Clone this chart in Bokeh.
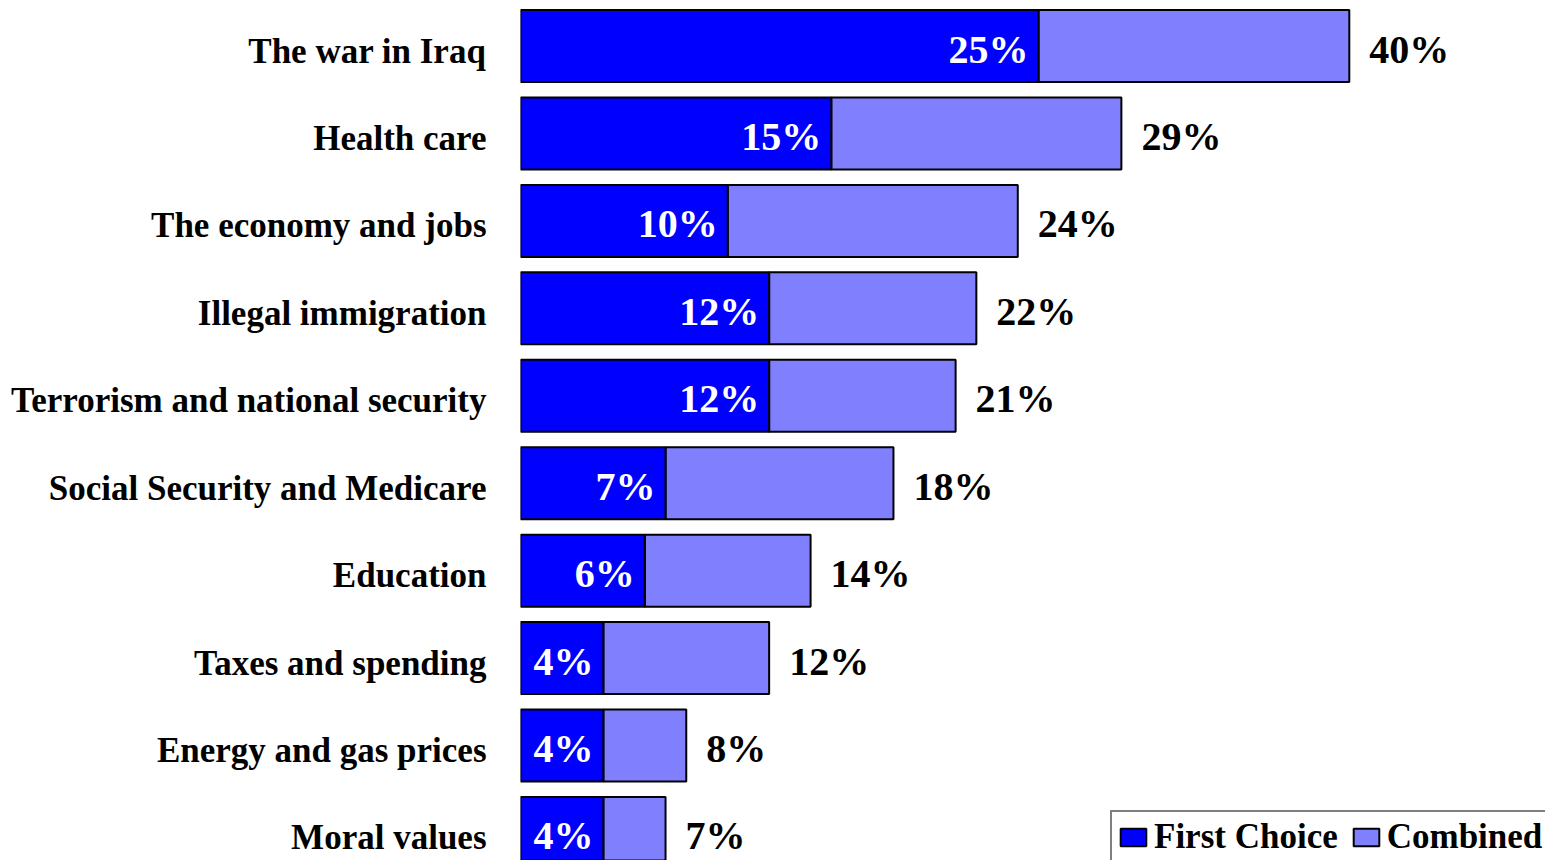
from bokeh.plotting import figure
from bokeh.models import ColumnDataSource, Range1d, Legend, LegendItem
from bokeh.core.properties import value
from bokeh.embed import file_html
from bokeh.resources import INLINE

categories = ["The war in Iraq", "Health care", "The economy and jobs", "Illegal immigration",
              "Terrorism and national security", "Social Security and Medicare", "Education",
              "Taxes and spending", "Energy and gas prices", "Moral values"]
first_choice = [25, 15, 10, 12, 12, 7, 6, 4, 4, 4]
combined = [40, 29, 24, 22, 21, 18, 14, 12, 8, 7]

FONT = "Liberation Serif"
BLUE = "#0000FF"
LIGHT = "#8080FF"

idx = list(range(len(categories)))
src = ColumnDataSource(dict(
    y=idx,
    cat=categories,
    zero=[0] * len(categories),
    first=first_choice,
    comb=combined,
    first_lbl=[f"{v}%" for v in first_choice],
    comb_lbl=[f"{v}%" for v in combined],
))

W, H = 1545, 860
left = 520
px_per = 20.72
pitch = 87.44
top_off = 45.5

x_range = Range1d(0, (W - left) / px_per)
y_range = Range1d(start=(H - top_off) / pitch, end=-top_off / pitch)

p = figure(width=W, height=H, x_range=x_range, y_range=y_range,
           output_backend="svg", toolbar_location=None,
           min_border_left=left, min_border_right=0, min_border_top=0, min_border_bottom=0,
           outline_line_color=None)
p.xaxis.visible = False
p.yaxis.visible = False
p.xgrid.visible = False
p.ygrid.visible = False

bh = 72 / pitch
r_comb = p.hbar(y="y", left="first", right="comb", height=bh, source=src,
                fill_color=LIGHT, line_color="black", line_width=2)
r_first = p.hbar(y="y", left=0, right="first", height=bh, source=src,
                 fill_color=BLUE, line_color="black", line_width=2)

p.text(x="first", y="y", text="first_lbl", source=src, x_offset=-10, y_offset=3,
       text_align="right", text_baseline="middle", text_color="white",
       text_font=value(FONT), text_font_style="bold", text_font_size="40px")
p.text(x="comb", y="y", text="comb_lbl", source=src, x_offset=20, y_offset=3,
       text_align="left", text_baseline="middle", text_color="black",
       text_font=value(FONT), text_font_style="bold", text_font_size="40px")

# category labels, right-aligned left of the bars
cat_text = p.text(x="zero", y="y", text="cat", source=src, x_offset=-34, y_offset=5,
                  text_align="right", text_baseline="middle", text_color="black",
                  text_font=value(FONT), text_font_style="bold", text_font_size="35px")
cat_text.level = "overlay"

legend = Legend(items=[LegendItem(label="First Choice", renderers=[r_first]),
                       LegendItem(label="Combined", renderers=[r_comb])],
                orientation="horizontal", location=(590, -4),
                label_text_font=FONT, label_text_font_style="bold", label_text_font_size="35px",
                label_text_color="black", glyph_width=32, glyph_height=22,
                label_standoff=5, spacing=12, padding=5, margin=0,
                border_line_color="black", border_line_width=2, background_fill_alpha=1)
p.add_layout(legend, "center")

open("out.html", "w").write(file_html(p, INLINE))
